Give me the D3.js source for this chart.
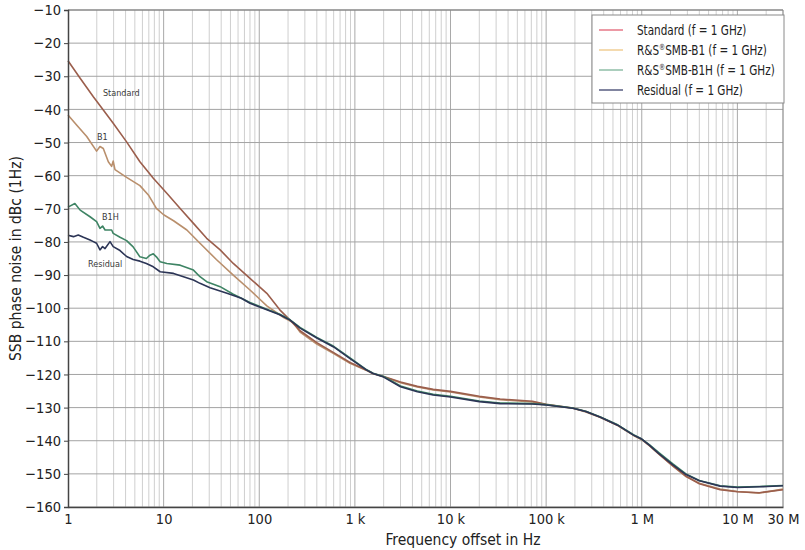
<!DOCTYPE html>
<html>
<head>
<meta charset="utf-8">
<script src="https://cdn.jsdelivr.net/npm/d3@7"></script>
<style>
  body { margin: 0; background: #fff; }
  svg text { font-family: "DejaVu Sans Condensed", "Liberation Sans Narrow", sans-serif; }
</style>
</head>
<body>
<div id="chart"></div>
<script>
// tick labels
var xTickValues = [1, 10, 100, 1e3, 1e4, 1e5, 1e6, 1e7, 3e7];
var xTickLabels = ["1", "10", "100", "1 k", "10 k", "100 k", "1 M", "10 M", "30 M"];
var yTickValues = [-10, -20, -30, -40, -50, -60, -70, -80, -90, -100, -110, -120, -130, -140, -150, -160];

// shared frequencies above the crossover (Hz)
var tailFreq = [267, 400, 600, 890, 1330, 1550, 2000, 3000, 4500, 6600, 10000, 20000, 33000, 72000, 100000,
  190000, 260000, 370000, 560000, 820000, 1e6, 1.2e6, 1.5e6, 2.1e6, 2.9e6, 4e6, 6.6e6, 1e7, 1.7e7, 3e7];

// Standard
var stdFreq = [1, 1.34, 1.84, 2.34, 2.97, 4.1, 5.65, 7.8, 10.8, 14.9, 20.5, 28.2, 39, 53.5, 80, 120, 164, 210];
var stdVals = [-25.3, -30.6, -36.2, -40.2, -44.2, -49.8, -55.8, -60.8, -65.3, -69.9, -74.4, -78.9, -82.4, -86.5, -91, -95.5, -100.5, -103.6];
var stdTail = [-106.8, -110.4, -113.4, -116.4, -118.7, -119.7, -120.6, -122.3, -123.6, -124.5, -125.1, -126.6, -127.4, -128.1, -129,
  -130.1, -131.2, -132.9, -135.3, -138.3, -139.6, -141.4, -143.9, -147.5, -150.7, -153, -154.8, -155.4, -155.7, -154.8];

// R&S SMB-B1
var b1Freq = [1, 1.23, 1.57, 1.99, 2.16, 2.34, 2.64, 2.86, 2.97, 3.1, 4.1, 5.65, 7, 8.4, 10, 12.7, 17.5, 24, 35.6, 53.5, 80, 120, 180, 228];
var b1Vals = [-41.7, -44.7, -48.2, -52.6, -51.2, -51.8, -55.8, -57.2, -55.6, -58.2, -60.5, -63, -66, -69.9, -71.8, -73.6, -76.4, -80.4, -85.3, -90, -94.5, -99.3, -102.8, -104.4];
var b1Tail = [-107.2, -110.8, -113.7, -116.6, -118.8, -119.8, -120.7, -122.5, -123.8, -124.7, -125.3, -126.8, -127.6, -128.3, -129.1,
  -130.2, -131.3, -133, -135.4, -138.4, -139.7, -141.5, -144, -147.6, -150.8, -152.8, -154.6, -155.3, -155.8, -154.6];

// R&S SMB-B1H
var b1hFreq = [1, 1.18, 1.34, 1.7, 1.99, 2.16, 2.3, 2.44, 2.86, 2.97, 3.5, 4.1, 4.8, 5.65, 6.6, 7.2, 7.8, 8.4, 9.2, 10.8, 14.9, 20.5, 24, 28.2, 39, 53.5, 80, 120, 164, 210];
var b1hVals = [-69.5, -68.4, -70.4, -72.4, -73.9, -75.9, -75.2, -76.4, -76.4, -77.4, -78.6, -79.6, -81.5, -84.5, -85, -84, -83.6, -84.5, -86, -86.5, -87, -88.5, -90.5, -92, -93.5, -95.8, -98.3, -100.3, -101.8, -103.5];
var b1hTail = [-105.8, -108.8, -111.5, -115, -118.6, -119.6, -120.6, -123.5, -125, -126, -126.6, -128, -128.6, -128.8, -129.1,
  -130.1, -131.1, -132.8, -135.2, -138.2, -139.5, -141.2, -143.5, -146.9, -150, -152, -153.6, -154, -153.8, -153.5];

// Residual
var resFreq = [1, 1.14, 1.28, 1.45, 1.7, 1.84, 1.99, 2.16, 2.3, 2.44, 2.75, 2.97, 3.5, 4.1, 4.8, 5.65, 6.6, 7.8, 9.2, 12.7, 20.5, 24, 30.6, 46, 65, 80, 120, 164, 210];
var resVals = [-78, -78.4, -77.9, -78.6, -79.4, -79.9, -80.4, -82.4, -81.4, -82, -79.9, -81.4, -82.6, -84.4, -85.3, -85.8, -86.5, -87.5, -89, -89.5, -91.5, -92.5, -93.8, -95.5, -97, -98.5, -100.5, -102, -103.6];
var resTail = [-106, -109, -111.7, -115.2, -118.7, -119.7, -120.8, -123.7, -125.2, -126.2, -126.8, -128.2, -128.8, -128.9, -129.2,
  -130.2, -131.2, -132.9, -135.3, -138.3, -139.5, -141.3, -143.8, -147.2, -150.2, -152.1, -153.7, -154.1, -153.9, -153.6];

// legend entries: [before superscript, superscript, after]
var seriesNames = [["Standard (f = 1 GHz)", "", ""], ["R&S", "\u00AE", "SMB-B1 (f = 1 GHz)"], ["R&S", "\u00AE", "SMB-B1H (f = 1 GHz)"], ["Residual (f = 1 GHz)", "", ""]];
var curveLabels = ["Standard", "B1", "B1H", "Residual"];
// where the in-plot labels sit (frequency, dBc)
var labelFreq = [2.32, 2.01, 2.27, 1.62];
var labelVals = [-36, -49.2, -73.4, -87.6];

var width = 805, height = 550;
var margin = { top: 10, right: 22, bottom: 43, left: 68 };
var w = width - margin.left - margin.right,
    h = height - margin.top - margin.bottom;

function zipSeries(freq, vals, tail) {
    var pts = freq.map(function (f, i) { return { f: f, v: vals[i] }; });
    tailFreq.forEach(function (f, i) { pts.push({ f: f, v: tail[i] }); });
    return pts;
}

var series = [
    { name: seriesNames[0], color: "#9b5e4c", legend: "#e0566a", data: zipSeries(stdFreq, stdVals, stdTail) },
    { name: seriesNames[1], color: "#b98f6c", legend: "#ecc27a", data: zipSeries(b1Freq, b1Vals, b1Tail) },
    { name: seriesNames[2], color: "#3e8464", legend: "#72ad90", data: zipSeries(b1hFreq, b1hVals, b1hTail) },
    { name: seriesNames[3], color: "#2c3556", legend: "#2d3360", data: zipSeries(resFreq, resVals, resTail) }
];

var svg = d3.select("#chart").append("svg")
    .attr("width", width)
    .attr("height", height);

var g = svg.append("g")
    .attr("transform", "translate(" + margin.left + "," + margin.top + ")");

var x = d3.scaleLog().domain([1, 3e7]).range([0, w]);
var y = d3.scaleLinear().domain([-160, -10]).range([h, 0]);

// vertical grid, minor then decades
var minor = [];
for (var d = 1; d <= 1e7; d *= 10) {
    for (var k = 2; k <= 9; k++) {
        if (d * k < 3e7) minor.push(d * k);
    }
}
g.selectAll(".vminor").data(minor).enter().append("line")
    .attr("x1", function (d) { return x(d); })
    .attr("x2", function (d) { return x(d); })
    .attr("y1", 0).attr("y2", h)
    .style("stroke", "#cfcfcf").style("stroke-width", 1);

g.selectAll(".vmajor").data([10, 100, 1e3, 1e4, 1e5, 1e6, 1e7]).enter().append("line")
    .attr("x1", function (d) { return x(d); })
    .attr("x2", function (d) { return x(d); })
    .attr("y1", 0).attr("y2", h)
    .style("stroke", "#a9a9a9").style("stroke-width", 1);

g.selectAll(".hgrid").data(yTickValues).enter().append("line")
    .attr("x1", 0).attr("x2", w)
    .attr("y1", function (d) { return y(d); })
    .attr("y2", function (d) { return y(d); })
    .style("stroke", "#a3a3a3").style("stroke-width", 1);

// frame top / right
g.append("line").attr("x1", 0).attr("x2", w).attr("y1", 0).attr("y2", 0)
    .style("stroke", "#7a7a7a").style("stroke-width", 1.2);
g.append("line").attr("x1", w).attr("x2", w).attr("y1", 0).attr("y2", h)
    .style("stroke", "#8a8a8a").style("stroke-width", 1.2);

// curves
var line = d3.line()
    .x(function (d) { return x(d.f); })
    .y(function (d) { return y(d.v); });

[1, 0, 2, 3].forEach(function (i) {
    g.append("path")
        .datum(series[i].data)
        .attr("d", line)
        .style("fill", "none")
        .style("stroke", series[i].color)
        .style("stroke-width", 1.6)
        .style("stroke-linejoin", "round");
});

// axes
var yAxis = d3.axisLeft(y).tickValues(yTickValues).tickSize(4).tickPadding(3)
    .tickFormat(function (d) { return String(d).replace("-", "\u2212"); });
var yG = g.append("g").call(yAxis);
yG.select(".domain").style("stroke", "#444").style("stroke-width", 1.5);
yG.selectAll(".tick line").style("stroke", "#444");
yG.selectAll(".tick text").style("font-size", "14.5px").style("fill", "#222")
    .style("font-family", "'DejaVu Sans Condensed', sans-serif");

var xAxis = d3.axisBottom(x).tickValues(xTickValues).tickSize(0).tickPadding(7)
    .tickFormat(function (d, i) { return xTickLabels[i]; });
var xG = g.append("g").attr("transform", "translate(0," + h + ")").call(xAxis);
xG.select(".domain").style("stroke", "#444").style("stroke-width", 1.5);
xG.selectAll(".tick text").style("font-size", "14.5px").style("fill", "#222")
    .style("font-family", "'DejaVu Sans Condensed', sans-serif");

// axis titles
svg.append("text")
    .attr("transform", "translate(21," + (margin.top + h / 2) + ") rotate(-90)")
    .style("text-anchor", "middle")
    .style("font-size", "15.5px")
    .style("fill", "#222")
    .text("SSB phase noise in dBc (1Hz)");

svg.append("text")
    .attr("x", 463)
    .attr("y", 545)
    .style("text-anchor", "middle")
    .style("font-size", "15.5px")
    .style("fill", "#222")
    .text("Frequency offset in Hz");

// curve labels near the start of each trace
curveLabels.forEach(function (t, i) {
    g.append("text")
        .attr("x", x(labelFreq[i]))
        .attr("y", y(labelVals[i]))
        .style("font-size", "9px")
        .style("fill", "#3a3a3a")
        .text(t);
});

// legend
var lg = svg.append("g").attr("transform", "translate(592,15)");
lg.append("rect")
    .attr("width", 192).attr("height", 88)
    .style("fill", "#fff").style("stroke", "#8a8a8a").style("stroke-width", 1);
series.forEach(function (s, i) {
    var yy = 15 + i * 20;
    lg.append("line")
        .attr("x1", 7).attr("x2", 31).attr("y1", yy).attr("y2", yy)
        .style("stroke", s.legend).style("stroke-width", 1.2);
    var t = lg.append("text")
        .attr("transform", "translate(45," + (yy + 5) + ") scale(0.8,1)")
        .style("font-size", "14.5px")
        .style("fill", "#222");
    t.append("tspan").text(s.name[0]);
    if (s.name[1]) {
        t.append("tspan").attr("dy", -5).style("font-size", "8.5px").text(s.name[1]);
        t.append("tspan").attr("dy", 5).text(s.name[2]);
    }
});
</script>
</body>
</html>
